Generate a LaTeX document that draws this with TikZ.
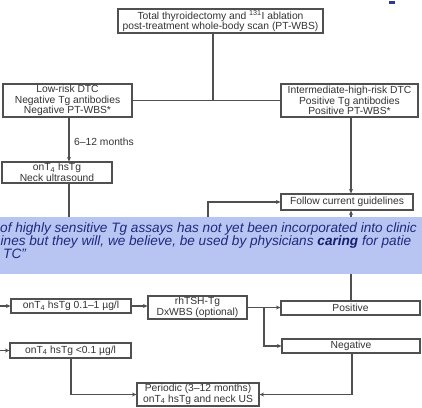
\documentclass[tikz,border=0pt]{standalone}
\usepackage{fontspec}
\setmainfont{Liberation Sans}
\usetikzlibrary{arrows.meta}
\definecolor{ln}{HTML}{505050}
\definecolor{tx}{HTML}{333333}
\definecolor{ovfill}{HTML}{B8C4F2}
\definecolor{ovtext}{HTML}{1E2A7C}
\definecolor{ovbold}{HTML}{14206E}
\definecolor{logo}{HTML}{2B3C8C}
\begin{document}
\begin{tikzpicture}[x=1pt,y=-1pt,
  box/.style={draw=ln, line width=1.1pt, fill=white, inner sep=0pt, align=center,
    text=tx, font=\fontsize{10.3}{10.5}\selectfont},
  lbl/.style={inner sep=0pt, text=tx, font=\fontsize{10.3}{10.5}\selectfont},
  conn/.style={draw=ln, line width=1.4pt},
  arr/.style={conn, -{Stealth[length=4.5pt,width=4pt]}},
  ovtxt/.style={inner sep=0pt, anchor=base west, text=ovtext,
    font=\fontsize{13.6}{12}\selectfont\itshape}]
\useasboundingbox (0,0) rectangle (422,407);
% coordinates for connector lines
\coordinate (cT) at (213,0);
\coordinate (cL) at (69,0);
\coordinate (cR) at (351,0);
\coordinate (cJ) at (264,0);
\coordinate (cB) at (71,0);
\coordinate (cN) at (352,0);
\coordinate (hidA) at (69,250);
\coordinate (hidB) at (208,250);
\coordinate (eL1) at (0,306);
\coordinate (eL2) at (0,350.5);
% nodes
\node[box, minimum width=205pt, minimum height=24pt] (top) at (220.5,21)
  {Total thyroidectomy and \textsuperscript{131}I ablation\\post-treatment whole-body scan (PT-WBS)};
\node[box, minimum width=129pt, minimum height=33pt] (low) at (67.5,100.5)
  {Low-risk DTC\\Negative Tg antibodies\\Negative PT-WBS*};
\node[box, minimum width=137pt, minimum height=33pt] (high) at (349.5,100.5)
  {Intermediate-high-risk DTC\\Positive Tg antibodies\\Positive PT-WBS*};
\node[box, minimum width=110pt, minimum height=21pt] (ont) at (57,172.5)
  {onT\textsubscript{4} hsTg\\Neck ultrasound};
\node[lbl, anchor=west] (lab) at (74,142) {6–12 months};
\node[box, minimum width=132pt, minimum height=16pt] (fol) at (347,202)
  {Follow current guidelines};
\node[box, minimum width=120pt, minimum height=14pt] (mid) at (71,306)
  {onT\textsubscript{4} hsTg 0.1–1 µg/l};
\node[box, minimum width=99pt, minimum height=23pt] (rh) at (197.5,307.5)
  {rhTSH-Tg\\DxWBS (optional)};
\node[box, minimum width=139pt, minimum height=14pt] (pos) at (350.5,308)
  {Positive};
\node[box, minimum width=138pt, minimum height=14pt] (neg) at (351,346)
  {Negative};
\node[box, minimum width=121pt, minimum height=15pt] (lowb) at (70.5,350.5)
  {onT\textsubscript{4} hsTg <0.1 µg/l};
\node[box, minimum width=122pt, minimum height=23pt] (per) at (198,394.5)
  {Periodic (3–12 months)\\onT\textsubscript{4} hsTg and neck US};
% connectors
\draw[conn] (cT |- top.south) -- (cT |- low.east);
\draw[conn] (low.east) -- (high.west);
\draw[arr] (cL |- low.south) -- (cL |- ont.north);
\draw[conn] (cL |- ont.south) -- (hidA);
\draw[arr] (cR |- high.south) -- (cR |- fol.north);
\draw[arr] (hidB) |- (fol.west);
\draw[arr] (cR |- pos.north) -- (cR |- fol.south);
\draw[arr] (eL1) -- (mid.west);
\draw[arr] (eL2) -- (lowb.west);
\draw[arr] (mid.east) -- (mid.east -| rh.west);
\draw[arr] (rh.east) -- (rh.east -| pos.west);
\draw[arr] (cJ |- rh.east) |- (neg.west);
\draw[arr] (cB |- lowb.south) |- (per.west);
\draw[arr] (cN |- neg.south) |- (per.east);
% overlay quote
\begin{scope}
\clip (0,217) rectangle (422,274);
\fill[ovfill] (0,217) rectangle (422,274);
\node[ovtxt] (q1) at (0,232) {of highly sensitive Tg assays has not yet been incorporated into clinic};
\node[ovtxt] (q2) at (0.5,245) {ines but they will, we believe, be used by physicians \textcolor{ovbold}{\bfseries caring} for patie};
\node[ovtxt] (q3) at (3,258) {TC”};
\end{scope}
% logo fragment
\fill[logo] (389,1) rectangle (395,3.5);
\end{tikzpicture}
\end{document}
